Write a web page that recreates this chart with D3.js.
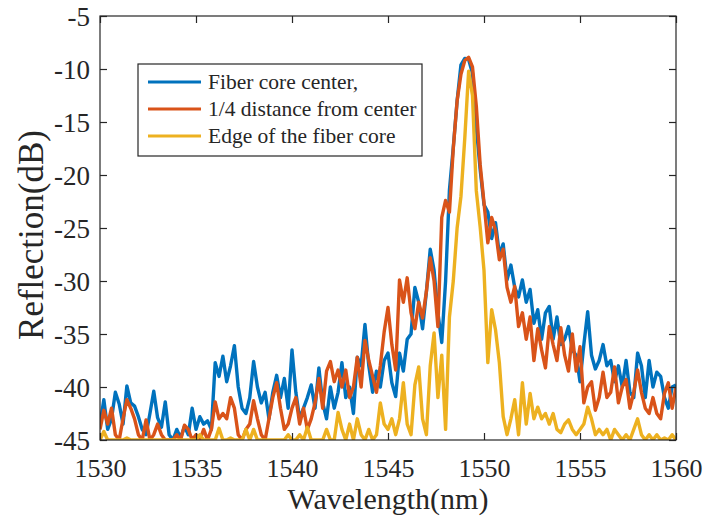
<!DOCTYPE html>
<html lang="en">
<head>
    <meta charset="UTF-8">
    <title>Reflection spectra</title>
    <script src="https://d3js.org/d3.v7.min.js"></script>
    <style>
        body {
            margin: 0;
            background: #fff;
            font-family: "Liberation Serif", "Times New Roman", serif;
        }
        .axis path, .axis line {
            stroke: #262626;
            stroke-width: 1.2;
        }
        .axis text {
            fill: #262626;
            font-family: "Liberation Serif", serif;
        }
    </style>
</head>
<body>
    <svg width="705" height="521"></svg>
    <script>
        // wavelength grid (nm): start + step * index
        const wlStart = 1530;
        const wlStep = 0.2;

        // reflection (dB), one value per grid point
        const coreCenter = [
            -43.5, -41.2, -44, -43, -40.5, -41.6, -43.5, -39.9, -41.5, -41.8,
            -42.8, -44, -44.5, -42.5, -40.4, -42.9, -43.8, -41.4, -44.5, -45,
            -44, -44.8, -43.7, -44.5, -42, -44, -42.8, -43.5, -43.2, -44,
            -37.7, -39, -37.1, -39.5, -38, -36.1, -40, -42, -42.5, -41,
            -37.6, -40, -41.5, -40.5, -43, -40.5, -38.9, -41, -39.2, -42,
            -36.5, -40.5, -43, -42, -41, -39.8, -42, -38.2, -41.5, -43,
            -40, -42, -40.5, -37.7, -41, -40, -42.5, -37.2, -38, -34.1,
            -38, -40.5, -38.5, -40, -37.5, -36.8, -39.6, -40.9, -36.8, -38.5,
            -35.5, -35, -30.6, -32, -34.5, -31, -27, -29, -33, -35.8,
            -30, -21.4, -17.4, -13, -9.6, -9, -9.1, -10.4, -15.5, -19.5,
            -22.8, -23.5, -26, -24.5, -27.5, -26.5, -29.9, -28.5, -30.6, -31.5,
            -29.9, -32, -30.8, -34, -32.7, -35.5, -33, -32.4, -35.5, -33.4,
            -36, -35.5, -34.3, -36.5, -37, -39.5, -36, -32.9, -37, -38.3,
            -37.5, -36, -38, -37.5, -39.5, -38, -40, -37.5, -40.5, -41,
            -36.8, -38, -41, -37.5, -40, -38.6, -39, -41, -42, -40,
            -39.8
        ];
        const quarterDist = [
            -44, -42.2, -43.5, -42, -44.5, -45, -43, -41.2, -42, -43,
            -44.5, -45, -43.1, -45, -44.5, -43.5, -44.5, -45, -45, -45,
            -44.5, -45, -43.6, -44, -45, -44.5, -45, -44, -45, -44,
            -41.4, -43, -42.5, -43, -41, -42, -44.5, -45, -44, -43.5,
            -41.3, -43, -44.5, -45, -43, -41, -39.6, -42, -44, -43.5,
            -42, -41, -43.5, -42, -44, -43, -41.5, -39.2, -42, -38.5,
            -37.6, -39.5, -38.4, -40, -38.4, -41, -40, -37.2, -40, -35.6,
            -37.5, -39, -40.5, -38, -34.8, -32.5, -36, -38.4, -29.9, -32,
            -29.7, -33, -34.5, -32, -33.5, -31, -27.8, -30, -34.3, -24,
            -22.4, -23.5, -17.5, -13, -10.5, -9.2, -8.9, -9.8, -13.5, -19,
            -22.6, -26.4, -24, -25.2, -28, -27, -30.6, -32, -30.5, -34.3,
            -33, -35.5, -33.4, -37.5, -34.5, -36.5, -38.2, -34.3, -36, -37.5,
            -34.4, -37, -38.5, -35, -38.5, -36.2, -41.5, -40, -39.5, -42.2,
            -41, -38.6, -41, -40.5, -38.1, -41.5, -40, -39.3, -42, -40.5,
            -38.4, -40.5, -42, -42.5, -41, -42.5, -43, -40.6, -39.6, -42,
            -40
        ];
        const coreEdge = [
            -45, -44.2, -45, -45, -45, -45, -45, -44.8, -45, -45,
            -45, -45, -45, -45, -45, -45, -45, -45, -45, -45,
            -45, -45, -45, -45, -45, -45, -44.5, -45, -45, -45,
            -45, -43.9, -45, -45, -44.8, -45, -45, -45, -44, -45,
            -44, -45, -45, -45, -45, -45, -45, -45, -45, -44.5,
            -45, -45, -44.5, -45, -43.8, -45, -45, -45, -45, -44,
            -45, -45, -42.4, -44, -45, -43.5, -45, -43, -44.5, -45,
            -44, -45, -44.5, -41.5, -43.5, -44, -43, -44.5, -43, -39.6,
            -43.5, -44.5, -39.8, -38.1, -43, -44.5, -38, -34.9, -41, -37,
            -44, -33.4, -30, -25, -22, -16.5, -10.2, -12.5, -21.5, -24.9,
            -29, -37.7, -32.7, -34.6, -37.7, -42.8, -44.5, -43, -41.2, -44.5,
            -39.6, -43.5, -40.6, -43, -41.9, -43, -42.5, -43.5, -42.5, -44,
            -44.3, -43.5, -43.1, -44, -44.5, -44, -43.5, -41.9, -43, -44.5,
            -44, -44.5, -44, -45, -44, -44.5, -45, -44.5, -45, -44,
            -43, -44.5, -45, -44.5, -45, -44.5, -45, -44.8, -45, -44.5,
            -45
        ];

        const seriesNames = ["Fiber core center,", "1/4 distance from center", "Edge of the fiber core"];
        const seriesColors = ["#0072BD", "#D95319", "#EDB120"];
        const seriesValues = [coreCenter, quarterDist, coreEdge];

        const xTicks = [1530, 1535, 1540, 1545, 1550, 1555, 1560];
        const yTicks = [-45, -40, -35, -30, -25, -20, -15, -10, -5];

        const svg = d3.select("svg");
        const m = { left: 100, right: 676, top: 16, bottom: 440 };

        const x = d3.scaleLinear().domain([1530, 1560]).range([m.left, m.right]);
        const y = d3.scaleLinear().domain([-45, -5]).range([m.bottom, m.top]);

        svg.append("clipPath").attr("id", "plotClip")
            .append("rect")
            .attr("x", m.left).attr("y", m.top)
            .attr("width", m.right - m.left).attr("height", m.bottom - m.top);

        // spectra
        const line = d3.line()
            .x((d, i) => x(wlStart + wlStep * i))
            .y(d => y(d));

        const lines = svg.append("g").attr("clip-path", "url(#plotClip)");
        seriesValues.forEach((vals, k) => {
            lines.append("path")
                .datum(vals)
                .attr("d", line)
                .attr("fill", "none")
                .attr("stroke", seriesColors[k])
                .attr("stroke-width", 3.4)
                .attr("stroke-linejoin", "round");
        });

        // plain hyphen for negatives, like the original
        const fmt = d => String(d);

        // axes, ticks pointing inward on all four sides
        const xAxis = svg.append("g").attr("class", "axis")
            .attr("transform", `translate(0,${m.bottom})`)
            .call(d3.axisBottom(x).tickValues(xTicks).tickFormat(fmt)
                .tickSizeInner(-7).tickSizeOuter(0).tickPadding(19));
        xAxis.selectAll("text").attr("font-size", 26);

        svg.append("g").attr("class", "axis")
            .attr("transform", `translate(0,${m.top})`)
            .call(d3.axisTop(x).tickValues(xTicks).tickFormat("")
                .tickSizeInner(-7).tickSizeOuter(0));

        const yAxis = svg.append("g").attr("class", "axis")
            .attr("transform", `translate(${m.left},0)`)
            .call(d3.axisLeft(y).tickValues(yTicks).tickFormat(fmt)
                .tickSizeInner(-7).tickSizeOuter(0).tickPadding(10));
        yAxis.selectAll("text").attr("font-size", 27).attr("dy", "0.36em");

        svg.append("g").attr("class", "axis")
            .attr("transform", `translate(${m.right},0)`)
            .call(d3.axisRight(y).tickValues(yTicks).tickFormat("")
                .tickSizeInner(-7).tickSizeOuter(0));

        svg.selectAll(".axis .domain").remove();
        svg.append("rect")
            .attr("x", m.left).attr("y", m.top)
            .attr("width", m.right - m.left).attr("height", m.bottom - m.top)
            .attr("fill", "none").attr("stroke", "#262626").attr("stroke-width", 1.2);

        // axis titles
        svg.append("text")
            .attr("x", (m.left + m.right) / 2).attr("y", 509)
            .attr("text-anchor", "middle")
            .attr("font-size", 30).attr("fill", "#262626")
            .text("Wavelength(nm)");

        svg.append("text")
            .attr("transform", "translate(43,235) rotate(-90)")
            .attr("text-anchor", "middle")
            .attr("font-size", 35).attr("fill", "#262626")
            .text("Reflection(dB)");

        // legend
        const legend = svg.append("g");
        legend.append("rect")
            .attr("x", 138).attr("y", 64).attr("width", 284).attr("height", 92)
            .attr("fill", "#fff").attr("stroke", "#262626").attr("stroke-width", 1.2);

        seriesNames.forEach((name, k) => {
            const ly = 82 + k * 27;
            legend.append("line")
                .attr("x1", 148).attr("x2", 201).attr("y1", ly).attr("y2", ly)
                .attr("stroke", seriesColors[k]).attr("stroke-width", 3);
            legend.append("text")
                .attr("x", 208).attr("y", ly + 7)
                .attr("font-size", 21.5).attr("fill", "#262626")
                .text(name);
        });
    </script>
</body>
</html>
